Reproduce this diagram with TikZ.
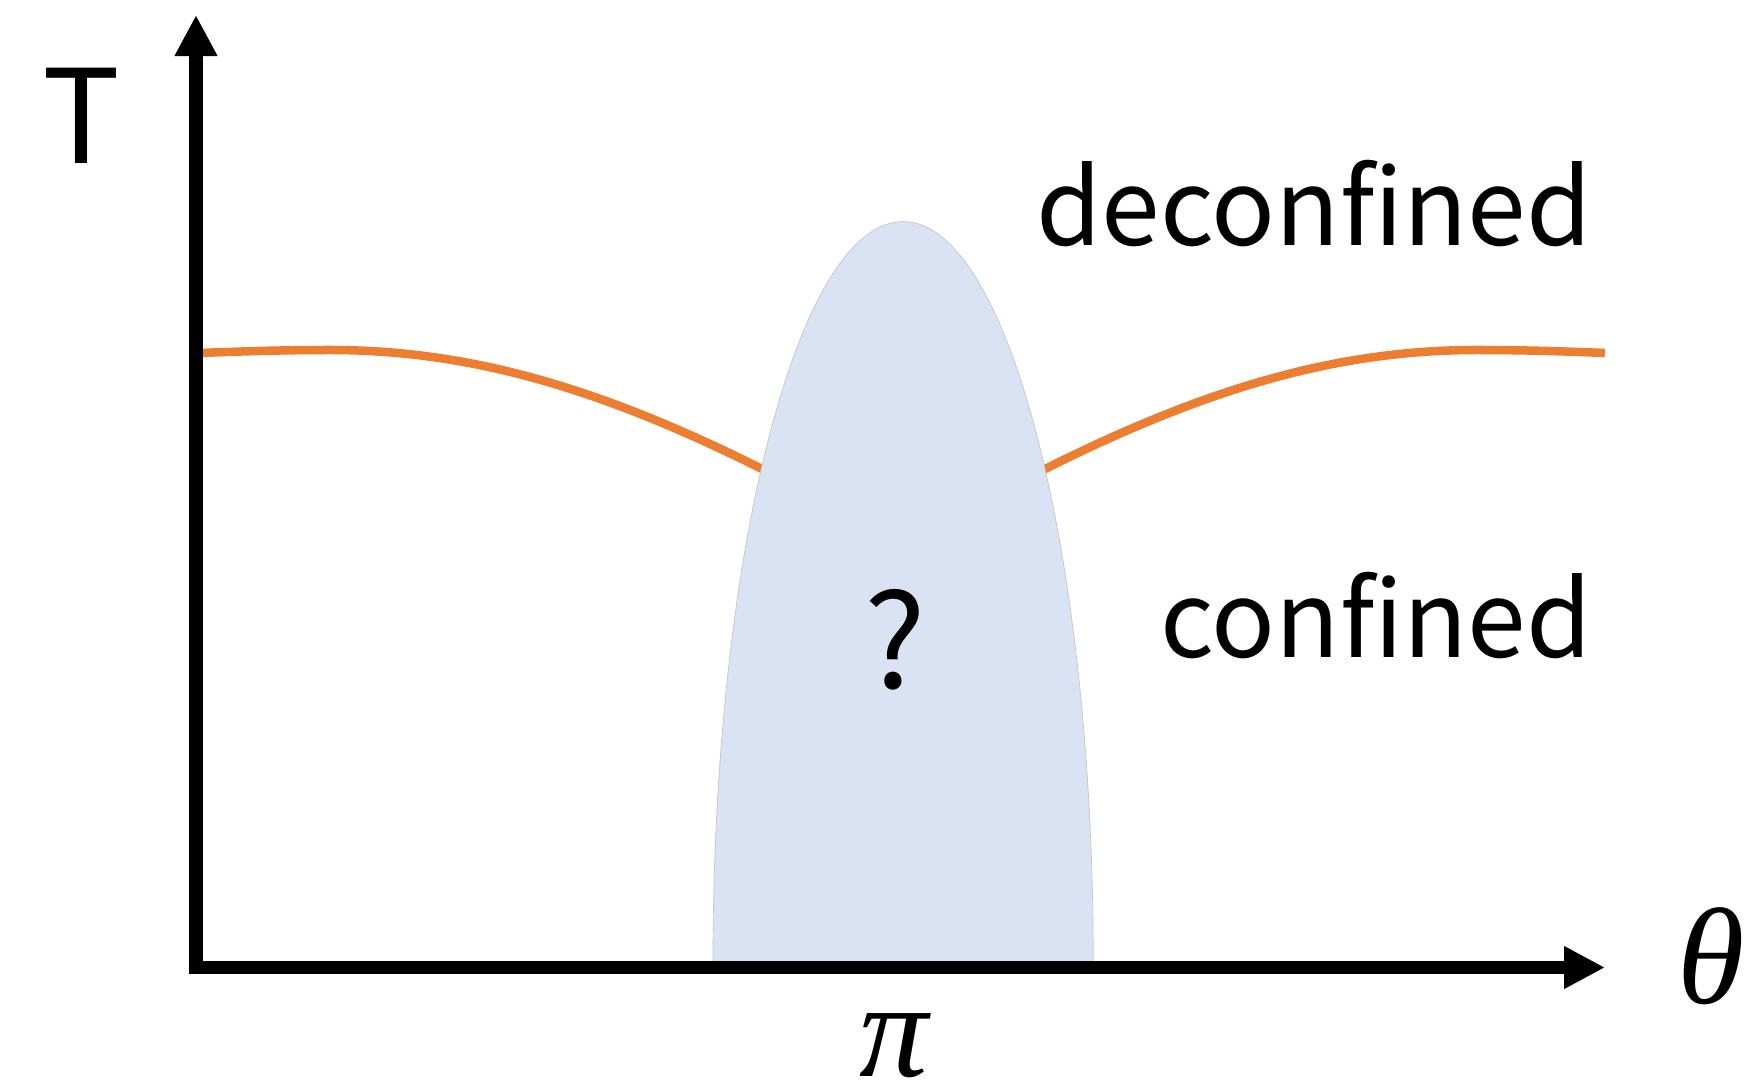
\documentclass[tikz,border=0pt]{standalone}
\usepackage{fontspec}
\setsansfont{Noto Sans CJK JP}[Ligatures=CommonOff]
\newfontfamily\greekfont{Liberation Serif}
\usetikzlibrary{arrows.meta}
\definecolor{blobblue}{HTML}{DAE3F3}
\definecolor{curveorange}{HTML}{ED7D31}
\tikzset{
  axisline/.style={line width=0.13cm, line join=miter, {Triangle[length=0.41cm,width=0.40cm]}-{Triangle[length=0.41cm,width=0.40cm]}},
  tcurve/.style={curveorange, line width=0.085cm},
  regionlabel/.style={font=\sffamily\fontsize{30pt}{36pt}\selectfont, inner sep=0pt},
  biglabel/.style={font=\sffamily\fontsize{37pt}{44pt}\selectfont, inner sep=0pt},
  mathlabel/.style={font=\greekfont\itshape\fontsize{39pt}{47pt}\selectfont, inner sep=0pt},
}
\begin{document}
\begin{tikzpicture}[x=0.01cm, y=-0.01cm]
\useasboundingbox (0,0) rectangle (1758,1086);
% orange transition curve
\draw[tcurve] (200,353) .. controls (250,351) and (290,350) .. (330,350)
   .. controls (470,350) and (600,388) .. (762,469) -- (800,488);
\draw[tcurve] (1605,353) .. controls (1557,351) and (1517,350) .. (1477,350)
   .. controls (1337,350) and (1207,388) .. (1045,469) -- (1007,488);
% unknown region
\fill[blobblue] (713,961) arc[start angle=180, end angle=0, x radius=1.90cm, y radius=7.39cm] -- cycle;
\draw[gray!45, line width=0.2pt] (713,961) arc[start angle=180, end angle=0, x radius=1.90cm, y radius=7.39cm];
% axes
\coordinate (o) at (196,967.5);
\coordinate (ytip) at (196,15);
\coordinate (xtip) at (1605,967.5);
\draw[axisline] (ytip) -- (o) -- (xtip);
% labels
\node[biglabel] (tlabel) at (81,116) {T};
\node[mathlabel] (thetalabel) at (1711,956) {θ};
\node[mathlabel] (pilabel) at (894,1046) {π};
\node[regionlabel, anchor=base] (deconf) at (1314,246) {deconfined};
\node[regionlabel, anchor=base] (conf) at (1376,658) {confined};
\node[biglabel] (qmark) at (895,640) {?};
\end{tikzpicture}
\end{document}
